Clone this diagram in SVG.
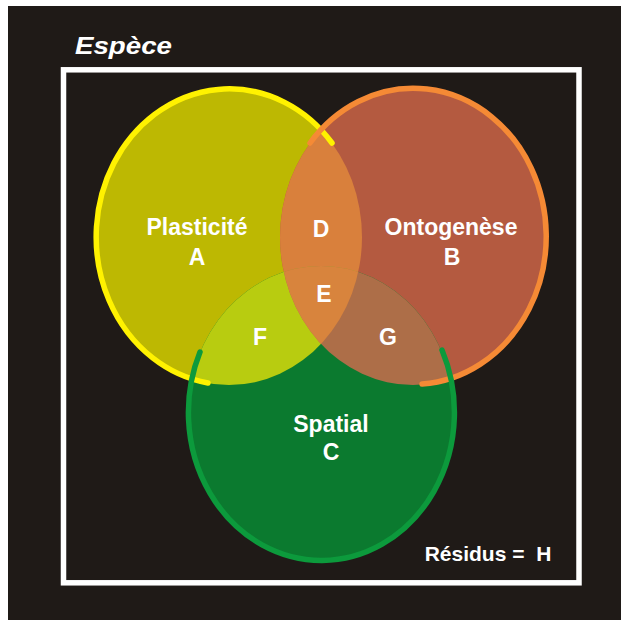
<svg xmlns="http://www.w3.org/2000/svg" width="621" height="620" viewBox="0 0 621 620">
<style>
.t{font-family:"Liberation Sans",Arial,sans-serif;font-weight:bold;fill:#ffffff;text-anchor:middle;font-size:23px}
.arc{fill:none;stroke-width:5.5;stroke-linecap:round}
</style>
<defs>
<clipPath id="clipA"><ellipse cx="229" cy="237" rx="133" ry="148"/></clipPath>
<clipPath id="clipB"><ellipse cx="413" cy="237" rx="133" ry="148"/></clipPath>
</defs>
<rect x="0" y="0" width="621" height="620" fill="#ffffff"/>
<rect x="8" y="6" width="613" height="614" fill="#1f1a17"/>
<text x="75" y="53.5" style="font-family:'Liberation Sans',Arial,sans-serif;font-weight:bold;font-style:italic;font-size:23px;fill:#ffffff" textLength="97" lengthAdjust="spacingAndGlyphs">Espèce</text>
<rect x="63.5" y="69.8" width="515.5" height="513" fill="none" stroke="#ffffff" stroke-width="5.5"/>
<g id="A">
<ellipse cx="229" cy="237" rx="133" ry="148" fill="#bdb802"/>
</g>
<g id="B">
<ellipse cx="413" cy="237" rx="133" ry="148" fill="#b45a40"/>
</g>
<g id="C">
<ellipse cx="321" cy="414" rx="133" ry="148" fill="#0b7a2f"/>
</g>
<g id="D">
<ellipse cx="413" cy="237" rx="133" ry="148" fill="#d9803c" clip-path="url(#clipA)"/>
</g>
<g id="F">
<ellipse cx="321" cy="414" rx="133" ry="148" fill="#b8cc10" clip-path="url(#clipA)"/>
</g>
<g id="G">
<ellipse cx="321" cy="414" rx="133" ry="148" fill="#ad6e48" clip-path="url(#clipB)"/>
</g>
<g id="E">
<g clip-path="url(#clipA)">
<ellipse cx="321" cy="414" rx="133" ry="148" fill="#d8843d" clip-path="url(#clipB)"/>
</g>
</g>
<g id="outlines">
<path class="arc" stroke="#fff200" d="M 208,383 A 133 148 0 1 1 332,143"/>
<path class="arc" stroke="#f58a35" d="M 310,143 A 133 148 0 1 1 422,384"/>
<path class="arc" stroke="#0c9a3c" d="M 442,350 A 133 148 0 1 1 200,352"/>
</g>
<g id="labels">
<text class="t" x="197" y="235">Plasticité</text>
<text class="t" x="197" y="265">A</text>
<text class="t" x="451" y="235">Ontogenèse</text>
<text class="t" x="452" y="265">B</text>
<text class="t" x="331" y="432">Spatial</text>
<text class="t" x="331" y="460">C</text>
<text class="t" x="321" y="237">D</text>
<text class="t" x="324" y="302">E</text>
<text class="t" x="260" y="345">F</text>
<text class="t" x="388" y="345">G</text>
<text class="t" x="488" y="561" style="font-size:21px" xml:space="preserve">Résidus =  H</text>
</g>
</svg>
